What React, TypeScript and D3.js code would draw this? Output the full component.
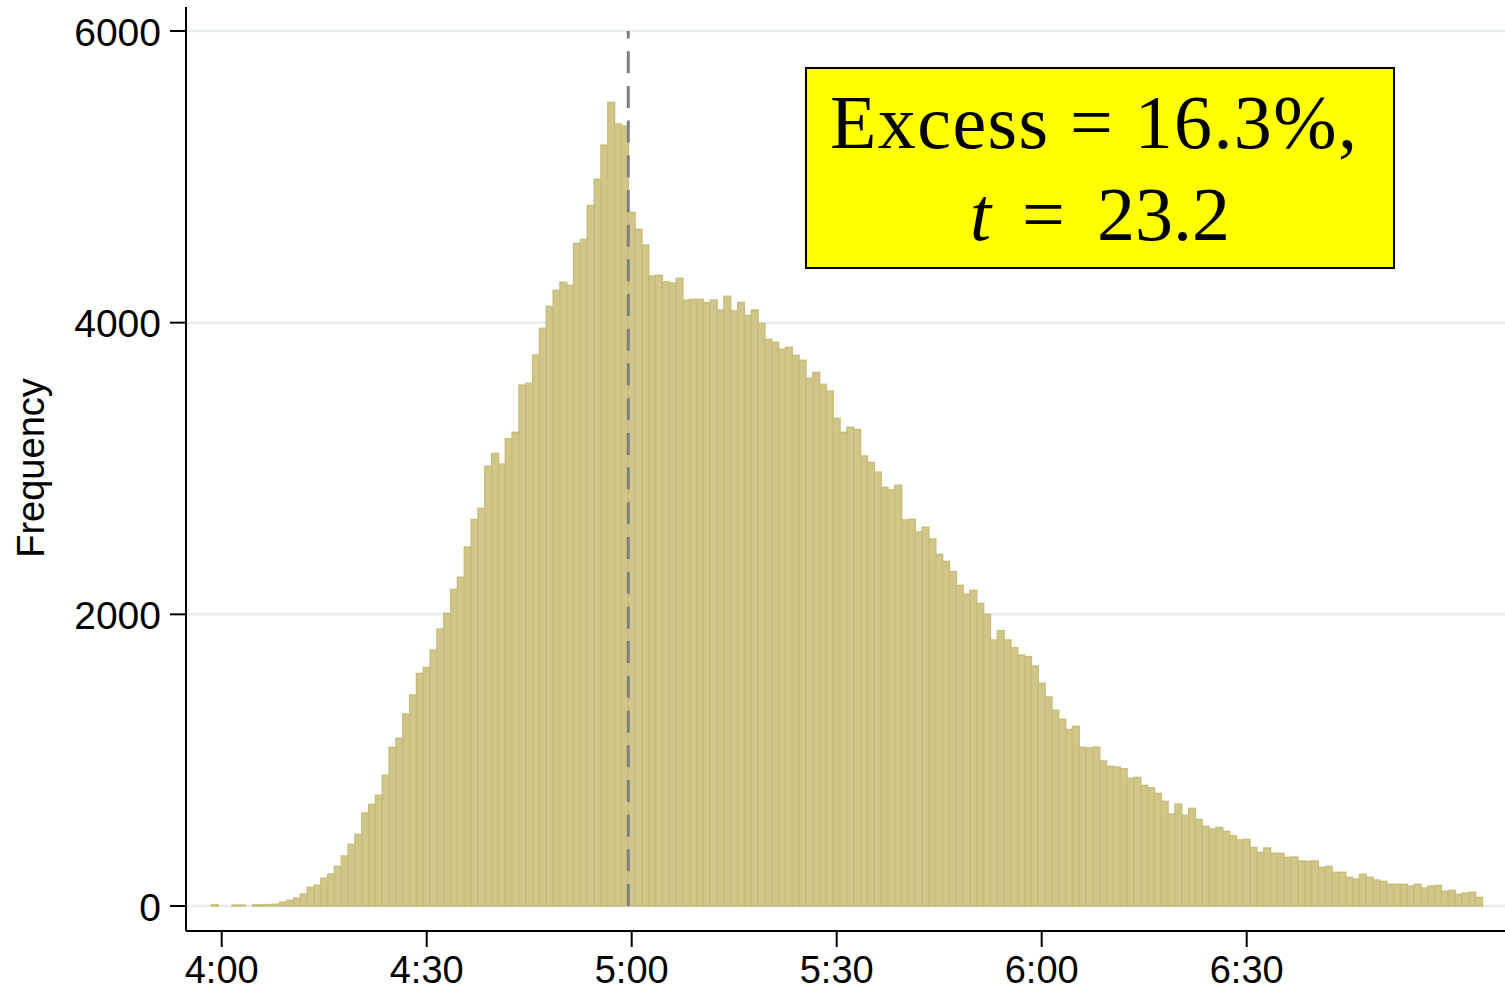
import React, { useRef, useEffect } from "react";
import * as d3 from "d3";

// minutes after 4:00 of the first bin (each bin = 1 minute, centred on the minute)
const binStart = -1;
const counts = [
  8, 0, 0, 6, 6, 0, 8, 8, 10, 12,
  27, 39, 53, 82, 128, 142, 190, 219, 272, 343,
  423, 491, 638, 697, 759, 896, 1088, 1150, 1317, 1447,
  1595, 1636, 1755, 1899, 2007, 2171, 2254, 2462, 2651, 2727,
  3015, 3104, 3031, 3204, 3248, 3572, 3584, 3778, 3961, 4112,
  4222, 4277, 4256, 4544, 4571, 4804, 4983, 5218, 5511, 5362,
  5348, 4756, 4640, 4532, 4320, 4325, 4281, 4272, 4304, 4155,
  4160, 4160, 4137, 4155, 4087, 4181, 4080, 4139, 4050, 4087,
  3995, 3886, 3865, 3817, 3831, 3776, 3742, 3618, 3659, 3577,
  3531, 3344, 3248, 3282, 3268, 3086, 3042, 2976, 2871, 2853,
  2885, 2647, 2652, 2565, 2597, 2517, 2411, 2363, 2293, 2199,
  2139, 2165, 2075, 2000, 1824, 1888, 1824, 1771, 1721, 1710,
  1646, 1527, 1433, 1342, 1280, 1211, 1232, 1088, 1083, 1090,
  994, 958, 953, 942, 875, 882, 827, 811, 772, 718,
  631, 699, 622, 670, 594, 546, 528, 539, 512, 482,
  453, 457, 402, 368, 398, 361, 361, 334, 336, 309,
  306, 309, 265, 272, 231, 231, 197, 185, 217, 197,
  178, 169, 149, 149, 149, 137, 149, 123, 137, 141,
  101, 107, 80, 89, 94, 59,
];

const xTickMinutes = [0, 30, 60, 90, 120, 150];
const xTickLabels = ["4:00", "4:30", "5:00", "5:30", "6:00", "6:30"];
const yTicks = [0, 2000, 4000, 6000];
const cutoffMinute = 59.5;
const annotation = ["Excess = 16.3%,", "23.2"];

export default function App() {
  const ref = useRef<SVGSVGElement>(null);

  useEffect(() => {
    document.body.style.margin = "0";
    const width = 1505;
    const height = 991;
    const svg = d3.select(ref.current);
    svg.selectAll("*").remove();
    svg.attr("width", width).attr("height", height);

    const x = d3.scaleLinear().domain([0, 150]).range([221.7, 1246.7]);
    const y = d3.scaleLinear().domain([0, 6000]).range([906, 31]);
    const axisX = 186;
    const axisY = 931;
    const sans = "'Liberation Sans', Arial, sans-serif";

    // gridlines
    svg
      .append("g")
      .selectAll("line")
      .data(yTicks)
      .join("line")
      .attr("x1", axisX)
      .attr("x2", width)
      .attr("y1", (d) => y(d))
      .attr("y2", (d) => y(d))
      .attr("stroke", "#e6eeef")
      .attr("stroke-width", 2.5);

    // bars
    const bins = counts.map((c, i) => ({ m: binStart + i, c }));
    svg
      .append("g")
      .selectAll("rect")
      .data(bins.filter((d) => d.c > 0))
      .join("rect")
      .attr("x", (d) => x(d.m - 0.5))
      .attr("width", (d) => x(d.m + 0.5) - x(d.m - 0.5))
      .attr("y", (d) => y(d.c))
      .attr("height", (d) => y(0) - y(d.c))
      .attr("fill", "#d0c689")
      .attr("stroke", "#c7bd79")
      .attr("stroke-width", 1.4);

    // cutoff line
    svg
      .append("line")
      .attr("x1", x(cutoffMinute))
      .attr("x2", x(cutoffMinute))
      .attr("y1", y(0))
      .attr("y2", y(6000))
      .attr("stroke", "#7f7f7f")
      .attr("stroke-width", 3)
      .attr("stroke-dasharray", "22 12.7");

    // axes lines
    svg
      .append("line")
      .attr("x1", axisX)
      .attr("x2", axisX)
      .attr("y1", 7)
      .attr("y2", axisY)
      .attr("stroke", "#000")
      .attr("stroke-width", 2);
    svg
      .append("line")
      .attr("x1", axisX)
      .attr("x2", width)
      .attr("y1", axisY)
      .attr("y2", axisY)
      .attr("stroke", "#000")
      .attr("stroke-width", 2);

    // y ticks
    const yt = svg.append("g").selectAll("g").data(yTicks).join("g");
    yt.append("line")
      .attr("x1", 170)
      .attr("x2", axisX)
      .attr("y1", (d) => y(d))
      .attr("y2", (d) => y(d))
      .attr("stroke", "#000")
      .attr("stroke-width", 2);
    yt.append("text")
      .attr("x", 161)
      .attr("y", (d) => y(d) + 14.5)
      .attr("text-anchor", "end")
      .style("font-family", sans)
      .style("font-size", "39px")
      .text((d) => String(d));

    // x ticks
    const xt = svg.append("g").selectAll("g").data(xTickMinutes).join("g");
    xt.append("line")
      .attr("x1", (d) => x(d))
      .attr("x2", (d) => x(d))
      .attr("y1", axisY)
      .attr("y2", axisY + 16)
      .attr("stroke", "#000")
      .attr("stroke-width", 2);
    xt.append("text")
      .attr("x", (d) => x(d))
      .attr("y", 983)
      .attr("text-anchor", "middle")
      .style("font-family", sans)
      .style("font-size", "38px")
      .text((d, i) => xTickLabels[i]);

    // y title
    svg
      .append("text")
      .attr("transform", "translate(44,468) rotate(-90)")
      .attr("text-anchor", "middle")
      .style("font-family", sans)
      .style("font-size", "38px")
      .text("Frequency");

    // annotation box
    const box = svg.append("g");
    box
      .append("rect")
      .attr("x", 806)
      .attr("y", 68)
      .attr("width", 588)
      .attr("height", 200)
      .attr("fill", "#ffff00")
      .attr("stroke", "#000")
      .attr("stroke-width", 2);
    const serif = "'Liberation Serif', 'Times New Roman', serif";
    box
      .append("text")
      .attr("x", 830)
      .attr("y", 148)
      .attr("textLength", 527)
      .attr("lengthAdjust", "spacing")
      .style("font-family", serif)
      .style("font-size", "76px")
      .text(annotation[0]);
    const t2 = box
      .append("text")
      .attr("y", 240)
      .style("font-family", serif)
      .style("font-size", "76px");
    t2.append("tspan").attr("x", 970).style("font-style", "italic").text("t");
    t2.append("tspan").attr("x", 1022).text("=");
    t2.append("tspan")
      .attr("x", 1097)
      .attr("textLength", 133)
      .attr("lengthAdjust", "spacing")
      .text(annotation[1]);
  }, []);

  return <svg ref={ref} style={{ display: "block" }} />;
}
